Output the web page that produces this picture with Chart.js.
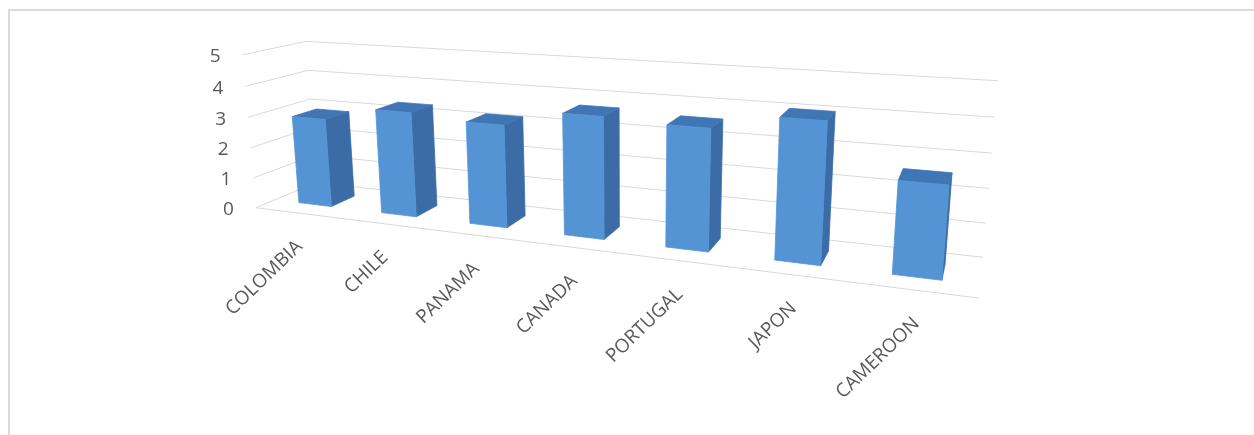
<!DOCTYPE html>
<html>
<head>
<meta charset="utf-8">
<script src="https://cdn.jsdelivr.net/npm/chart.js@4.4.1/dist/chart.umd.min.js"></script>
<style>
  html, body { margin: 0; padding: 0; background: #fff; }
  #wrap { position: relative; width: 1254px; height: 435px; overflow: hidden; }
  #marco { position: absolute; left: 8px; top: 9px; width: 1400px; height: 600px;
           border-left: 2px solid #d9d9d9; border-top: 2px solid #d9d9d9; }
  canvas { position: absolute; left: 0; top: 0; }
</style>
</head>
<body>
<div id="wrap">
  <div id="marco"></div>
  <canvas id="grafico" width="1254" height="435"></canvas>
</div>
<script>
// Datos del gráfico
const categories = ['COLOMBIA', 'CHILE', 'PANAMA', 'CANADA', 'PORTUGAL', 'JAPON', 'CAMEROON'];
const values = [2.9, 3.35, 3.2, 3.7, 3.6, 4.05, 2.6];
const yTicks = [0, 1, 2, 3, 4, 5];

// Puntos de referencia de la perspectiva: [X categoria, Y valor, Z fondo(0)/frente(1), px, py]
const anchors = [
  [-0.5, 5, 0, 305, 42], [-0.5, 4, 0, 310, 70],
  [6.5, 5, 0, 998, 81], [6.5, 4, 0, 995, 118], [6.5, 3, 0, 992, 152],
  [6.5, 2, 0, 988, 188], [6.5, 1, 0, 986, 222], [6.5, 0, 0, 983, 258],
  [-0.5, 5, 1, 242, 54], [-0.5, 4, 1, 245, 87], [-0.5, 1, 1, 255, 178],
  [-0.5, 0, 1, 257, 208], [6.5, 0, 1, 978, 297],
  [0, 0, 0.7, 312, 205], [1, 0, 0.7, 399, 213], [2, 0, 0.7, 488, 225],
  [3, 0, 0.7, 583, 237], [4, 0, 0.7, 689, 252], [5, 0, 0.7, 798, 263],
  [6, 0, 0.7, 917, 278]
];

const zFrente = 0.7, zFondo = 0.3;
const colFrente = '#5594d4', colLado = '#3b6ca6', colTapa = '#4176b5';
const colGrid = '#d9d9d9', colTexto = '#595959';

// Resuelve un sistema lineal (eliminacion de Gauss)
function resolver(M, r) {
  const n = r.length;
  const A = M.map((fila, i) => fila.concat([r[i]]));
  for (let c = 0; c < n; c++) {
    let p = c;
    for (let i = c + 1; i < n; i++) if (Math.abs(A[i][c]) > Math.abs(A[p][c])) p = i;
    [A[c], A[p]] = [A[p], A[c]];
    for (let i = c + 1; i < n; i++) {
      const f = A[i][c] / A[c][c];
      for (let j = c; j <= n; j++) A[i][j] -= f * A[c][j];
    }
  }
  const x = new Array(n).fill(0);
  for (let i = n - 1; i >= 0; i--) {
    let s = A[i][n];
    for (let j = i + 1; j < n; j++) s -= A[i][j] * x[j];
    x[i] = s / A[i][i];
  }
  return x;
}

// Camara por minimos cuadrados (DLT)
function camara(pts) {
  const filas = [], rhs = [];
  pts.forEach(([X, Y, Z, px, py]) => {
    const u = px / 1000, v = py / 1000;
    filas.push([X, Y, Z, 1, 0, 0, 0, 0, -u * X, -u * Y, -u * Z]); rhs.push(u);
    filas.push([0, 0, 0, 0, X, Y, Z, 1, -v * X, -v * Y, -v * Z]); rhs.push(v);
  });
  const M = [], r = [];
  for (let i = 0; i < 11; i++) {
    M.push([]);
    let s = 0;
    for (let j = 0; j < 11; j++) {
      let t = 0;
      for (let k = 0; k < filas.length; k++) t += filas[k][i] * filas[k][j];
      M[i].push(t);
    }
    for (let k = 0; k < filas.length; k++) s += filas[k][i] * rhs[k];
    r.push(s);
  }
  return resolver(M, r);
}

const cam = camara(anchors);
function P(X, Y, Z) {
  const w = cam[8] * X + cam[9] * Y + cam[10] * Z + 1;
  return [1000 * (cam[0] * X + cam[1] * Y + cam[2] * Z + cam[3]) / w,
          1000 * (cam[4] * X + cam[5] * Y + cam[6] * Z + cam[7]) / w];
}

function linea(ctx, a, b) {
  ctx.beginPath(); ctx.moveTo(a[0], a[1]); ctx.lineTo(b[0], b[1]); ctx.stroke();
}
function cara(ctx, pts, color) {
  ctx.beginPath();
  pts.forEach((p, i) => i ? ctx.lineTo(p[0], p[1]) : ctx.moveTo(p[0], p[1]));
  ctx.closePath();
  ctx.fillStyle = color; ctx.fill();
  ctx.strokeStyle = color; ctx.lineWidth = 0.8; ctx.stroke();
}

// Dibuja las columnas 3D a partir de las escalas de Chart.js
const columnas3d = {
  id: 'columnas3d',
  afterDatasetsDraw(chart) {
    const ctx = chart.ctx;
    const area = chart.chartArea;
    const xs = chart.scales.x, ys = chart.scales.y;
    const n = categories.length;
    const toX = px => (px - area.left) / area.width * n - 0.5;
    const xIzq = toX(area.left), xDer = toX(area.right);

    ctx.save();
    ctx.strokeStyle = colGrid; ctx.lineWidth = 1;
    ys.ticks.forEach(t => {
      linea(ctx, P(xIzq, t.value, 0), P(xDer, t.value, 0));
      linea(ctx, P(xIzq, t.value, 0), P(xIzq, t.value, 1));
    });
    linea(ctx, P(xIzq, 0, 1), P(xDer, 0, 1));

    const meta = chart.getDatasetMeta(0);
    meta.data.forEach(el => {
      const { x, y, base, width } = el.getProps(['x', 'y', 'base', 'width'], true);
      const X0 = toX(x - width / 2), X1 = toX(x + width / 2);
      const Yv = ys.getValueForPixel(y), Yb = ys.getValueForPixel(base);
      cara(ctx, [P(X1, Yb, zFrente), P(X1, Yb, zFondo), P(X1, Yv, zFondo), P(X1, Yv, zFrente)], colLado);
      cara(ctx, [P(X0, Yv, zFrente), P(X1, Yv, zFrente), P(X1, Yv, zFondo), P(X0, Yv, zFondo)], colTapa);
      cara(ctx, [P(X0, Yb, zFrente), P(X1, Yb, zFrente), P(X1, Yv, zFrente), P(X0, Yv, zFrente)], colFrente);
    });

    ctx.fillStyle = colTexto;
    ctx.font = '19px "Open Sans"';
    ctx.textAlign = 'right'; ctx.textBaseline = 'middle';
    yTicks.forEach(v => {
      const p = P(xIzq, v, 1);
      ctx.fillText(String(v), p[0] - 22, p[1] + 2);
    });
    categories.forEach((c, i) => {
      const p = P(toX(xs.getPixelForValue(i)), 0, 1);
      ctx.save();
      ctx.translate(p[0] + 3, p[1] + 31);
      ctx.rotate(-44 * Math.PI / 180);
      ctx.fillText(c, 0, 0);
      ctx.restore();
    });
    ctx.restore();
  }
};

const ctx = document.getElementById('grafico').getContext('2d');
const grafico = new Chart(ctx, {
  type: 'bar',
  data: {
    labels: categories,
    datasets: [{
      label: 'Valor',
      data: values,
      backgroundColor: 'rgba(0,0,0,0)',
      borderWidth: 0,
      barPercentage: 0.4,
      categoryPercentage: 1
    }]
  },
  options: {
    responsive: false,
    animation: false,
    events: [],
    layout: { padding: 0 },
    plugins: { legend: { display: false }, tooltip: { enabled: false } },
    scales: {
      x: { display: false, offset: true },
      y: { display: false, min: 0, max: 5, ticks: { stepSize: 1 } }
    }
  },
  plugins: [columnas3d]
});
</script>
</body>
</html>
